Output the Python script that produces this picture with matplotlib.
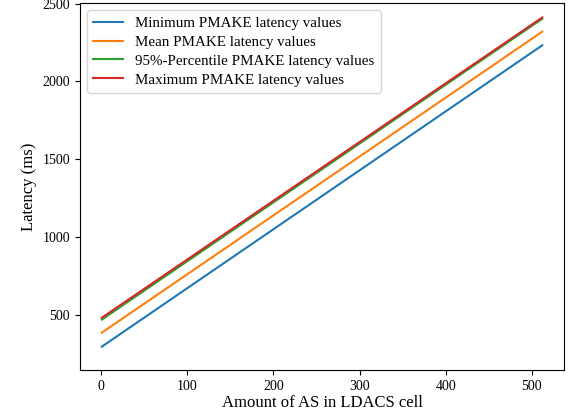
import matplotlib
matplotlib.use("Agg")
import matplotlib.pyplot as plt

plt.rcParams['font.family'] = ['Liberation Serif', 'DejaVu Serif']

# amount of aircraft stations in cell
as_count = [1, 512]

min_latency = [294, 2232]
mean_latency = [384, 2320]
p95_latency = [468, 2403]
max_latency = [480, 2411]

labels = [
    'Minimum PMAKE latency values',
    'Mean PMAKE latency values',
    '95%-Percentile PMAKE latency values',
    'Maximum PMAKE latency values',
]

fig = plt.figure(figsize=(5.74, 4.16), dpi=100)
ax = fig.add_axes([0.139, 0.111, 0.844, 0.882])

for series, label in zip([min_latency, mean_latency, p95_latency, max_latency], labels):
    ax.plot(as_count, series, label=label, linewidth=1.5)

ax.set_ylim(145, 2505)
ax.set_xlabel('Amount of AS in LDACS cell', fontsize=12, labelpad=2)
ax.set_ylabel('Latency (ms)', fontsize=12, labelpad=4)
ax.tick_params(labelsize=10)
ax.legend(loc='upper left', fontsize=10.8, labelspacing=0.36,
          borderaxespad=0.45, borderpad=0.45, handletextpad=0.8)

fig.savefig('out.png', dpi=100)
